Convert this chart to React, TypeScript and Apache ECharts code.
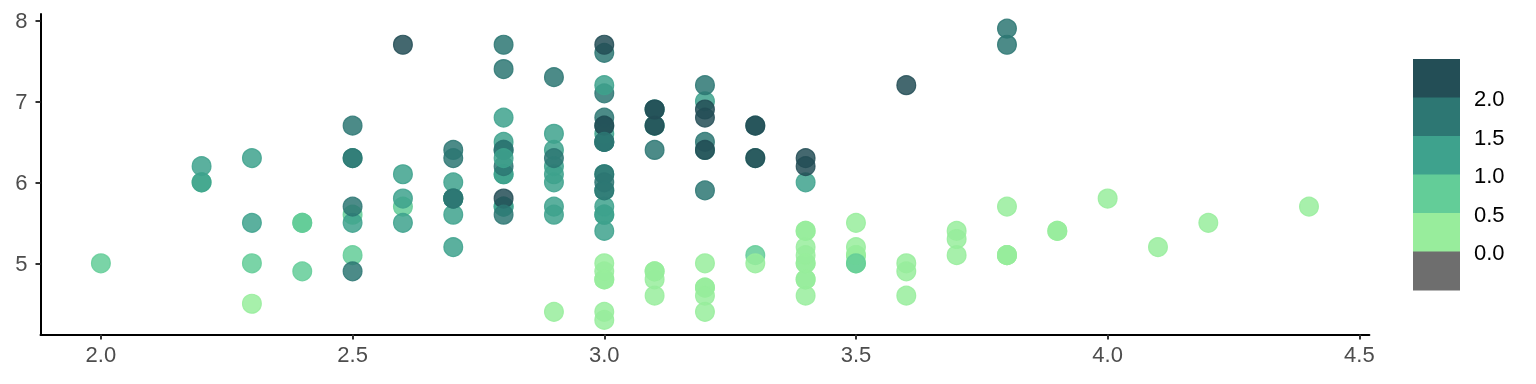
import React, { useEffect, useRef } from "react";
import * as echarts from "echarts";

// iris: Sepal.Width (x), Sepal.Length (y), Petal.Width (colour)
const sepalWidth = [
  3.5, 3.0, 3.2, 3.1, 3.6, 3.9, 3.4, 3.4, 2.9, 3.1, 3.7, 3.4, 3.0, 3.0, 4.0, 4.4, 3.9, 3.5, 3.8, 3.8,
  3.4, 3.7, 3.6, 3.3, 3.4, 3.0, 3.4, 3.5, 3.4, 3.2, 3.1, 3.4, 4.1, 4.2, 3.1, 3.2, 3.5, 3.6, 3.0, 3.4,
  3.5, 2.3, 3.2, 3.5, 3.8, 3.0, 3.8, 3.2, 3.7, 3.3,
  3.2, 3.2, 3.1, 2.3, 2.8, 2.8, 3.3, 2.4, 2.9, 2.7, 2.0, 3.0, 2.2, 2.9, 2.9, 3.1, 3.0, 2.7, 2.2, 2.5,
  3.2, 2.8, 2.5, 2.8, 2.9, 3.0, 2.8, 3.0, 2.9, 2.6, 2.4, 2.4, 2.7, 2.7, 3.0, 3.4, 3.1, 2.3, 3.0, 2.5,
  2.6, 3.0, 2.6, 2.3, 2.7, 3.0, 2.9, 2.9, 2.5, 2.8,
  3.3, 2.7, 3.0, 2.9, 3.0, 3.0, 2.5, 2.9, 2.5, 3.6, 3.2, 2.7, 3.0, 2.5, 2.8, 3.2, 3.0, 3.8, 2.6, 2.2,
  3.2, 2.8, 2.8, 2.7, 3.3, 3.2, 2.8, 3.0, 2.8, 3.0, 2.8, 3.8, 2.8, 2.8, 2.6, 3.0, 3.4, 3.1, 3.0, 3.1,
  3.1, 3.1, 2.7, 3.2, 3.3, 3.0, 2.5, 3.0, 3.4, 3.0,
];
const sepalLength = [
  5.1, 4.9, 4.7, 4.6, 5.0, 5.4, 4.6, 5.0, 4.4, 4.9, 5.4, 4.8, 4.8, 4.3, 5.8, 5.7, 5.4, 5.1, 5.7, 5.1,
  5.4, 5.1, 4.6, 5.1, 4.8, 5.0, 5.0, 5.2, 5.2, 4.7, 4.8, 5.4, 5.2, 5.5, 4.9, 5.0, 5.5, 4.9, 4.4, 5.1,
  5.0, 4.5, 4.4, 5.0, 5.1, 4.8, 5.1, 4.6, 5.3, 5.0,
  7.0, 6.4, 6.9, 5.5, 6.5, 5.7, 6.3, 4.9, 6.6, 5.2, 5.0, 5.9, 6.0, 6.1, 5.6, 6.7, 5.6, 5.8, 6.2, 5.6,
  5.9, 6.1, 6.3, 6.1, 6.4, 6.6, 6.8, 6.7, 6.0, 5.7, 5.5, 5.5, 5.8, 6.0, 5.4, 6.0, 6.7, 6.3, 5.6, 5.5,
  5.5, 6.1, 5.8, 5.0, 5.6, 5.7, 5.7, 6.2, 5.1, 5.7,
  6.3, 5.8, 7.1, 6.3, 6.5, 7.6, 4.9, 7.3, 6.7, 7.2, 6.5, 6.4, 6.8, 5.7, 5.8, 6.4, 6.5, 7.7, 7.7, 6.0,
  6.9, 5.6, 7.7, 6.3, 6.7, 7.2, 6.2, 6.1, 6.4, 7.2, 7.4, 7.9, 6.4, 6.3, 6.1, 7.7, 6.3, 6.4, 6.0, 6.9,
  6.7, 6.9, 5.8, 6.8, 6.7, 6.7, 6.3, 6.5, 6.2, 5.9,
];
const petalWidth = [
  0.2, 0.2, 0.2, 0.2, 0.2, 0.4, 0.3, 0.2, 0.2, 0.1, 0.2, 0.2, 0.1, 0.1, 0.2, 0.4, 0.4, 0.3, 0.3, 0.3,
  0.2, 0.4, 0.2, 0.5, 0.2, 0.2, 0.4, 0.2, 0.2, 0.2, 0.2, 0.4, 0.1, 0.2, 0.2, 0.2, 0.2, 0.1, 0.2, 0.2,
  0.3, 0.3, 0.2, 0.6, 0.4, 0.3, 0.2, 0.2, 0.2, 0.2,
  1.4, 1.5, 1.5, 1.3, 1.5, 1.3, 1.6, 1.0, 1.3, 1.4, 1.0, 1.5, 1.0, 1.4, 1.3, 1.4, 1.5, 1.0, 1.5, 1.1,
  1.8, 1.3, 1.5, 1.2, 1.3, 1.4, 1.4, 1.7, 1.5, 1.0, 1.1, 1.0, 1.2, 1.6, 1.5, 1.6, 1.5, 1.3, 1.3, 1.3,
  1.2, 1.4, 1.2, 1.0, 1.3, 1.2, 1.3, 1.3, 1.1, 1.3,
  2.5, 1.9, 2.1, 1.8, 2.2, 2.1, 1.7, 1.8, 1.8, 2.5, 2.0, 1.9, 2.1, 2.0, 2.4, 2.3, 1.8, 2.2, 2.3, 1.5,
  2.3, 2.0, 2.0, 1.8, 2.1, 1.8, 1.8, 1.8, 2.1, 1.6, 1.9, 2.0, 2.2, 1.5, 1.4, 2.3, 2.4, 1.8, 1.8, 2.1,
  2.4, 2.3, 1.9, 2.3, 2.5, 2.3, 1.9, 2.0, 2.3, 1.8,
];

const xTicks = [2.0, 2.5, 3.0, 3.5, 4.0, 4.5];
const yTicks = [5, 6, 7, 8];
// colour bins
const binBreaks = [0.0, 0.45, 1.15, 1.65, 2.25];
const binColors = ["#6E6E6E", "#98ED9C", "#63CD98", "#3EA28D", "#2D7773", "#234E56"];
const legendLabels = ["0.0", "0.5", "1.0", "1.5", "2.0"];

function colorIndex(v: number): number {
  let idx = 0;
  for (let i = 0; i < binBreaks.length; i++) {
    if (v >= binBreaks[i]) idx = i + 1;
  }
  return idx;
}

function rgba(hex: string, a: number): string {
  const r = parseInt(hex.slice(1, 3), 16);
  const g = parseInt(hex.slice(3, 5), 16);
  const b = parseInt(hex.slice(5, 7), 16);
  return `rgba(${r},${g},${b},${a})`;
}

const FONT = "'Liberation Sans', Arial, Helvetica, sans-serif";
const ALPHA = 0.85;

export default function App() {
  const ref = useRef<HTMLDivElement>(null);
  useEffect(() => {
    if (!ref.current) return;
    const chart = echarts.init(ref.current, undefined, { renderer: "svg" });
    const data = sepalWidth.map((x, i) => {
      const c = rgba(binColors[colorIndex(petalWidth[i])], ALPHA);
      return {
        value: [x, sepalLength[i], petalWidth[i]],
        itemStyle: { color: c, borderColor: c, borderWidth: 1.2, opacity: 1 },
      };
    });

    const barX = 1413;
    const barW = 47;
    const barTop = 59;
    const blockH = 38.5;
    const graphics: any[] = [];
    for (let k = 0; k < binColors.length; k++) {
      const colorIdx = binColors.length - 1 - k;
      graphics.push({
        type: "rect",
        shape: { x: barX, y: barTop + k * blockH, width: barW, height: blockH + 0.5 },
        style: { fill: binColors[colorIdx] },
        silent: true,
      });
    }
    for (let j = 0; j < legendLabels.length; j++) {
      const labIdx = legendLabels.length - 1 - j;
      graphics.push({
        type: "text",
        x: barX + barW + 14,
        y: barTop + (j + 1) * blockH + 1,
        style: {
          text: legendLabels[labIdx],
          fill: "#000",
          font: `22px ${FONT}`,
          verticalAlign: "middle",
          align: "left",
        },
        silent: true,
      });
    }

    chart.setOption({
      animation: false,
      grid: { left: 40.5, right: 166.6, top: 14, bottom: 49.5, containLabel: false },
      xAxis: {
        type: "value",
        min: 1.88,
        max: 4.52,
        axisLine: { show: true, lineStyle: { color: "#000", width: 2 } },
        axisTick: {
          show: true,
          length: 5,
          lineStyle: { color: "#333", width: 2 },
          customValues: xTicks,
        },
        axisLabel: {
          customValues: xTicks,
          formatter: (v: number) => v.toFixed(1),
          color: "#4D4D4D",
          fontSize: 22,
          fontFamily: FONT,
          margin: 9,
        },
        splitLine: { show: false },
      },
      yAxis: {
        type: "value",
        min: 4.12,
        max: 8.08,
        axisLine: { show: true, lineStyle: { color: "#000", width: 2 } },
        axisTick: {
          show: true,
          length: 5,
          lineStyle: { color: "#333", width: 2 },
          customValues: yTicks,
        },
        axisLabel: {
          customValues: yTicks,
          formatter: (v: number) => String(Math.round(v)),
          color: "#4D4D4D",
          fontSize: 22,
          fontFamily: FONT,
          margin: 13,
        },
        splitLine: { show: false },
      },
      series: [
        {
          type: "scatter",
          data,
          symbol: "circle",
          symbolSize: 18.8,
          emphasis: { disabled: true },
        },
      ],
      graphic: graphics,
    });
    return () => chart.dispose();
  }, []);
  return (
    <div
      ref={ref}
      style={{ position: "fixed", left: 0, top: 0, width: 1536, height: 384 }}
    />
  );
}
